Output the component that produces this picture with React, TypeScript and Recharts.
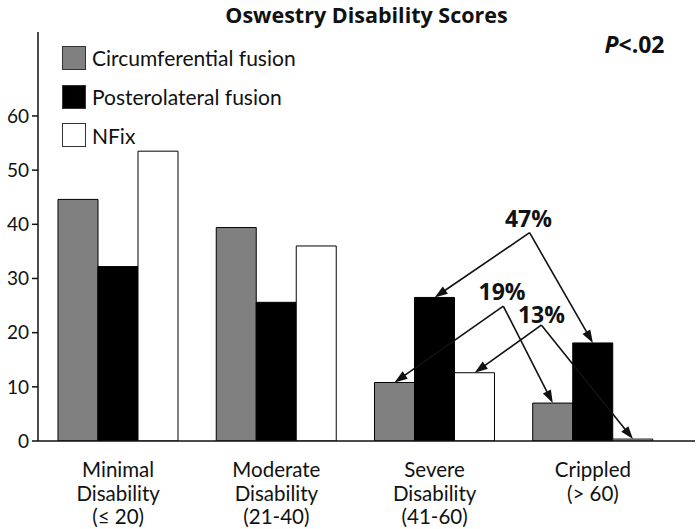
import React from 'react';
import { BarChart, Bar, XAxis, YAxis, Legend, ReferenceLine, ReferenceDot } from 'recharts';

const title = 'Oswestry Disability Scores';
const categories = ['Minimal', 'Moderate', 'Severe', 'Crippled'];
const categoryLabels = [
  ['Minimal', 'Disability', '(≤ 20)'],
  ['Moderate', 'Disability', '(21-40)'],
  ['Severe', 'Disability', '(41-60)'],
  ['Crippled', '(> 60)'],
];
const circumferential = [44.6, 39.4, 10.8, 7.0];
const posterolateral = [32.2, 25.6, 26.5, 18.1];
const nfix = [53.5, 36.0, 12.6, 0.35];
const yTicks = [0, 10, 20, 30, 40, 50, 60];
const seriesKeys = ['circ', 'post', 'nfix'];
const seriesNames = ['Circumferential fusion', 'Posterolateral fusion', 'NFix'];
const seriesColors = ['#808080', '#000000', '#ffffff'];
const pLabel = ['P', '<.02'];

// comparison annotations: label + apex position in category-band units, arrows point
// to the bars of the same series ("slot") in the two compared categories
const comparisons = [
  { label: '47%', labelX: 3.093, labelY: 41.0, apexX: 3.1, apexY: 38.45, slot: 1 },
  { label: '19%', labelX: 2.926, labelY: 27.6, apexX: 2.934, apexY: 24.9, slot: 0 },
  { label: '13%', labelX: 3.175, labelY: 23.3, apexX: 3.174, apexY: 21.4, slot: 2 },
];
const comparedCats = [2, 3];

const Y_MAX = 75.5;
const CAT_GAP = 0.12;
const seriesValues = [circumferential, posterolateral, nfix];

const data = categories.map((c, i) => ({
  cat: c,
  pos: i + 0.5,
  circ: circumferential[i],
  post: posterolateral[i],
  nfix: nfix[i],
}));

const slotCenter = (cat: number, slot: number) =>
  cat + CAT_GAP + ((1 - 2 * CAT_GAP) / 3) * (slot + 0.5);

const INK = '#111';
const BOLD_FONT = '"Open Sans", Lato, sans-serif';

const Arrow = (props: any) => {
  const { x1, y1, x2, y2 } = props;
  const dx = x2 - x1;
  const dy = y2 - y1;
  const len = Math.hypot(dx, dy) || 1;
  const ux = dx / len;
  const uy = dy / len;
  const hl = 13;
  const hw = 4.5;
  const bx = x2 - ux * hl;
  const by = y2 - uy * hl;
  const pts = `${x2},${y2} ${bx - uy * hw},${by + ux * hw} ${bx + uy * hw},${by - ux * hw}`;
  return (
    <g>
      <line x1={x1} y1={y1} x2={bx + ux * 2} y2={by + uy * 2} stroke={INK} strokeWidth={1.6} />
      <polygon points={pts} fill={INK} />
    </g>
  );
};

const CategoryTick = (props: any) => {
  const { x, y, payload } = props;
  const idx = categories.indexOf(payload.value);
  const lines = categoryLabels[idx] || [];
  return (
    <text x={x} y={y} textAnchor="middle" fontSize={20.5} fill={INK}>
      {lines.map((l, i) => (
        <tspan key={i} x={x} dy={i === 0 ? 28 : 23.5}>
          {l}
        </tspan>
      ))}
    </text>
  );
};

const LegendContent = () => (
  <div style={{ fontFamily: 'Lato, sans-serif' }}>
    {seriesNames.map((n, i) => (
      <div key={n} style={{ display: 'flex', alignItems: 'center', height: 38.7 }}>
        <span
          style={{
            display: 'inline-block',
            width: 24,
            height: 24,
            boxSizing: 'border-box',
            background: seriesColors[i],
            border: '1.5px solid #333',
          }}
        />
        <span style={{ marginLeft: 6, fontSize: 21, color: INK }}>{n}</span>
      </div>
    ))}
  </div>
);

export default function App() {
  return (
    <div
      style={{
        position: 'absolute',
        left: 0,
        top: 0,
        width: 697,
        height: 529,
        background: '#fff',
        fontFamily: 'Lato, sans-serif',
      }}
    >
      <div
        style={{
          position: 'absolute',
          top: 0,
          left: 36,
          width: 661,
          textAlign: 'center',
          fontSize: 21.5,
          fontWeight: 700,
          fontFamily: BOLD_FONT,
          lineHeight: 'normal',
          color: INK,
          zIndex: 2,
        }}
      >
        {title}
      </div>
      <BarChart
        width={697}
        height={529}
        data={data}
        margin={{ top: 32, right: 2, left: 0, bottom: 0 }}
        barCategoryGap="12%"
        barGap={0}
      >
        <XAxis
          dataKey="cat"
          height={88}
          padding={{ left: 1, right: 23 }}
          tickLine={false}
          axisLine={{ stroke: INK, strokeWidth: 1.5 }}
          tick={<CategoryTick />}
          interval={0}
        />
        <XAxis
          xAxisId="top"
          dataKey="cat"
          orientation="top"
          height={0}
          tick={false}
          tickLine={false}
          axisLine={{ stroke: '#333', strokeWidth: 1.5 }}
        />
        <XAxis
          xAxisId="ann"
          dataKey="pos"
          type="number"
          domain={[0, 4]}
          allowDataOverflow
          padding={{ left: 1, right: 23 }}
          hide
        />
        <YAxis
          width={38}
          domain={[0, Y_MAX]}
          ticks={yTicks}
          allowDataOverflow
          tickSize={6}
          tickMargin={3}
          tick={{ fontSize: 19, fill: INK }}
          tickLine={{ stroke: INK, strokeWidth: 1.5 }}
          axisLine={{ stroke: INK, strokeWidth: 1.5 }}
        />
        <YAxis
          yAxisId="r"
          orientation="right"
          width={0}
          tick={false}
          tickLine={false}
          axisLine={{ stroke: '#333', strokeWidth: 1.5 }}
        />
        <Legend
          layout="vertical"
          align="center"
          verticalAlign="middle"
          content={<LegendContent />}
          wrapperStyle={{ left: 62, top: 38.6, width: 280 }}
        />
        {seriesKeys.map((k, i) => (
          <Bar
            key={k}
            dataKey={k}
            name={seriesNames[i]}
            fill={seriesColors[i]}
            stroke="#000"
            strokeWidth={1}
            isAnimationActive={false}
          />
        ))}
        {comparisons.map((c) =>
          comparedCats.map((cat) => (
            <ReferenceLine
              key={`${c.label}-${cat}`}
              xAxisId="ann"
              ifOverflow="visible"
              segment={[
                { x: c.apexX, y: c.apexY },
                { x: slotCenter(cat, c.slot), y: seriesValues[c.slot][cat] },
              ]}
              shape={(p: any) => <Arrow {...p} />}
            />
          ))
        )}
        {comparisons.map((c) => (
          <ReferenceDot
            key={`lbl-${c.label}`}
            xAxisId="ann"
            ifOverflow="visible"
            x={c.labelX}
            y={c.labelY}
            r={0}
            shape={(p: any) => (
              <text
                x={p.cx}
                y={p.cy}
                dy="0.36em"
                textAnchor="middle"
                fontSize={23}
                fontWeight={700}
                fontFamily={BOLD_FONT}
                fill={INK}
              >
                {c.label}
              </text>
            )}
          />
        ))}
        <ReferenceDot
          xAxisId="ann"
          ifOverflow="visible"
          x={3.763}
          y={73.1}
          r={0}
          shape={(p: any) => (
            <text
              x={p.cx}
              y={p.cy}
              dy="0.36em"
              textAnchor="middle"
              fontSize={23}
              fontWeight={700}
              fontFamily={BOLD_FONT}
              fill={INK}
            >
              <tspan fontStyle="italic">{pLabel[0]}</tspan>
              <tspan>{pLabel[1]}</tspan>
            </text>
          )}
        />
      </BarChart>
    </div>
  );
}
